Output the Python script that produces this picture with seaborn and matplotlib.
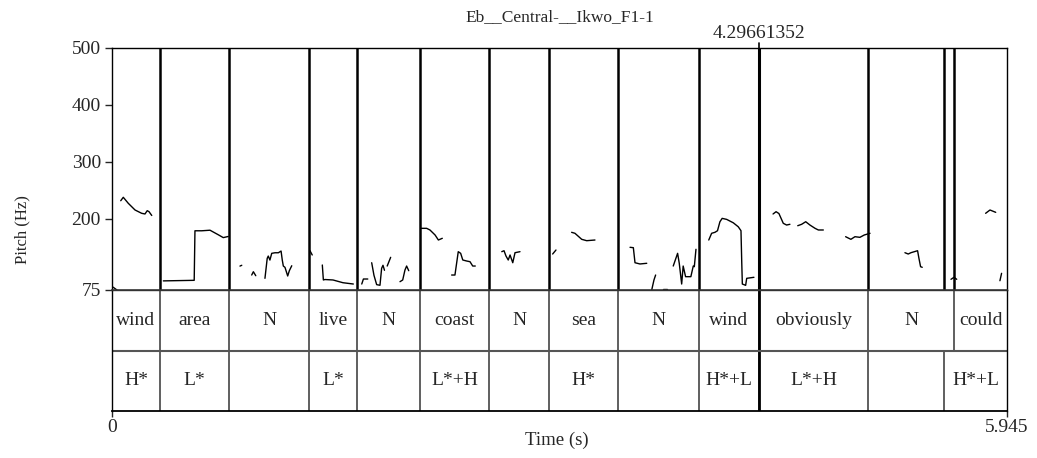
import matplotlib
matplotlib.use("Agg")
import matplotlib.pyplot as plt
import pandas as pd
import seaborn as sns

# interval tiers (times in s)
t_end = 5.945
cursor = 4.29661352
word_bounds = [0.319, 0.777, 1.309, 1.627, 2.046, 2.504, 2.903, 3.361, 3.899, 4.2966, 5.022, 5.593]
word_labels = ["wind", "area", "N", "live", "N", "coast", "N", "sea", "N", "wind", "obviously", "N", "could"]
tone_bounds = [0.319, 0.777, 1.309, 1.627, 2.046, 2.504, 2.903, 3.361, 3.899, 4.2966, 5.022, 5.526]
tone_labels = ["H*", "L*", "", "L*", "", "L*+H", "", "H*", "", "H*+L", "L*+H", "", "H*+L"]

# pitch track, one list per voiced stretch
pitch_t = [
    [0.007, 0.033],
    [0.058, 0.075, 0.108, 0.153, 0.197, 0.219, 0.234, 0.246, 0.264],
    [0.341, 0.546, 0.551, 0.596, 0.651, 0.706, 0.739, 0.772],
    [0.850, 0.862],
    [0.928, 0.939, 0.955],
    [1.016, 1.031, 1.038, 1.049, 1.061, 1.083, 1.105, 1.123, 1.131, 1.138, 1.149, 1.167, 1.178, 1.194],
    [1.315, 1.330],
    [1.397, 1.404, 1.414, 1.468, 1.534, 1.603],
    [1.659, 1.670, 1.699],
    [1.725, 1.740, 1.758, 1.780, 1.791, 1.800, 1.810],
    [1.828, 1.851],
    [1.913, 1.931, 1.946, 1.957, 1.971],
    [2.050, 2.090, 2.112, 2.146, 2.168, 2.194],
    [2.256, 2.278, 2.300, 2.316, 2.330, 2.356, 2.378, 2.396, 2.413],
    [2.589, 2.604, 2.617, 2.632, 2.644, 2.662, 2.677, 2.710],
    [2.927, 2.949],
    [3.053, 3.075, 3.120, 3.153, 3.208],
    [3.441, 3.463, 3.474, 3.507, 3.552],
    [3.585, 3.600, 3.611],
    [3.662, 3.684],
    [3.728, 3.757, 3.768, 3.784, 3.794, 3.810, 3.845, 3.861, 3.868, 3.879],
    [3.964, 3.983, 4.005, 4.022, 4.038, 4.053, 4.083, 4.127, 4.160, 4.178, 4.183, 4.187, 4.209, 4.216, 4.264],
    [4.391, 4.411, 4.430, 4.459, 4.481, 4.503],
    [4.555, 4.581, 4.608, 4.636, 4.670, 4.692, 4.725],
    [4.873, 4.908, 4.935, 4.968, 4.997, 5.035],
    [5.267, 5.289, 5.307, 5.351, 5.360, 5.371, 5.382],
    [5.573, 5.593, 5.611],
    [5.803, 5.832, 5.870],
    [5.898, 5.909],
]
pitch_hz = [
    [80, 75],
    [231.8, 237.8, 227.3, 215.5, 209.7, 208.5, 214.3, 212.5, 205.9],
    [91, 92, 179, 179, 180, 172, 167, 169],
    [117, 118.4],
    [101.3, 107.1, 100.1],
    [95.5, 130.6, 134.6, 127.6, 139.4, 140.4, 140.4, 143.4, 127.6, 117.1, 114.8, 99.6, 108.9, 117.6],
    [144, 136.5],
    [118.9, 92.6, 93.4, 92.6, 87.8, 85.5],
    [85.5, 94.3, 94.3],
    [122.9, 100.9, 84.4, 83.3, 113.1, 118.4, 109.6],
    [117.1, 132.4],
    [89.6, 92.6, 110.1, 117.1, 108.9],
    [183.3, 183.3, 180.4, 171.6, 162.8, 165.8],
    [101.3, 101.3, 142.3, 139.4, 127.7, 125.9, 124.7, 117.1, 117.1],
    [142.3, 144, 134.7, 127.7, 136.5, 122.9, 140.5, 142.3],
    [138.2, 145.2],
    [176.3, 174.6, 164, 161.6, 162.8],
    [150, 149.3, 122.9, 120.7, 121.9],
    [75, 92.6, 101.3],
    [76.2, 76.2],
    [117.1, 139.4, 121.9, 85.5, 117.1, 98.4, 98.4, 117.1, 115.9, 146.5],
    [162.8, 174.6, 176.3, 179.1, 194.8, 200.8, 199, 193, 186, 179.1, 124.2, 85.5, 83.2, 95.5, 97.3],
    [208.5, 212.5, 209.3, 192.1, 189.1, 190.4],
    [187.9, 190.4, 194.9, 189.1, 183.3, 180.4, 180.4],
    [168.6, 164, 168.6, 167.5, 171.6, 174.6],
    [140.5, 138.2, 140.5, 144, 130.7, 115.9, 114.9],
    [93.8, 97.3, 93.8],
    [209.7, 215.5, 211.4],
    [91.3, 104.3],
]
yticks = [75, 200, 300, 400, 500]

rows = [(i, t, f) for i, (ts, fs) in enumerate(zip(pitch_t, pitch_hz)) for t, f in zip(ts, fs)]
df = pd.DataFrame(rows, columns=["seg", "time", "f0"])

sns.set_style("white")
plt.rcParams["font.family"] = ["Liberation Serif", "DejaVu Serif"]

W, H = 1037, 458
fig = plt.figure(figsize=(W / 100, H / 100), dpi=100)
x0, x1 = 112, 1007
tx = fig.add_axes([x0 / W, 1 - 411 / H, (x1 - x0) / W, 121 / H])
ax = fig.add_axes([x0 / W, 1 - 290 / H, (x1 - x0) / W, 242 / H])

# pitch panel
sns.lineplot(data=df, x="time", y="f0", units="seg", estimator=None, sort=False,
             color="black", lw=1, ax=ax)
all_bounds = sorted(set(word_bounds) | set(tone_bounds))
ax.vlines(all_bounds, 75, 500, color="black", lw=1.8)
ax.vlines([cursor], 75, 500, color="black", lw=2.2)
ax.plot([cursor, cursor], [500, 509], color="black", lw=1.2, clip_on=False)
ax.text(cursor, 525, f"{cursor:.8f}", ha="center", va="center", fontsize=14, clip_on=False)
ax.set_xlim(0, t_end)
ax.set_ylim(75, 500)
ax.set_yticks(yticks)
ax.set_xticks([])
ax.set_xlabel("")
ax.set_ylabel("")
ax.tick_params(axis="y", direction="out", length=5, width=1, pad=3, labelsize=14, left=True)
for s in ax.spines.values():
    s.set_color("black")
    s.set_linewidth(1)
ax.spines["bottom"].set_color("#333333")
ax.spines["bottom"].set_linewidth(1.2)

# text tiers
tx.set_xlim(0, t_end)
tx.set_ylim(0, 2)
tx.vlines(word_bounds, 1, 2, color="#444444", lw=1.2)
tx.vlines(tone_bounds, 0, 1, color="#444444", lw=1.2)
tx.vlines([cursor], 0, 2, color="black", lw=2.0)
tx.axhline(1, color="#555555", lw=1.5)
wb = [0] + word_bounds + [t_end]
for a, b, lab in zip(wb[:-1], wb[1:], word_labels):
    tx.text((a + b) / 2, 1.5, lab, ha="center", va="center", fontsize=14)
tb = [0] + tone_bounds + [t_end]
for a, b, lab in zip(tb[:-1], tb[1:], tone_labels):
    tx.text((a + b) / 2, 0.5, lab, ha="center", va="center", fontsize=14)
tx.set_yticks([])
tx.set_xticks([0, t_end])
tx.set_xticklabels(["0", "5.945"])
tx.tick_params(axis="x", direction="out", length=4, width=1, pad=2, labelsize=14, bottom=True)
for s in tx.spines.values():
    s.set_color("black")
    s.set_linewidth(1)
tx.spines["top"].set_color("#333333")
tx.spines["bottom"].set_linewidth(1.3)

fig.text(560 / W, 1 - 17 / H, "Eb__Central-__Ikwo_F1-1", ha="center", va="center", fontsize=12.5)
fig.text(22 / W, 1 - 230 / H, "Pitch (Hz)", ha="center", va="center", rotation=90, fontsize=12)
fig.text(557 / W, 1 - 440 / H, "Time (s)", ha="center", va="center", fontsize=13.5)

fig.savefig("out.png", dpi=100)
